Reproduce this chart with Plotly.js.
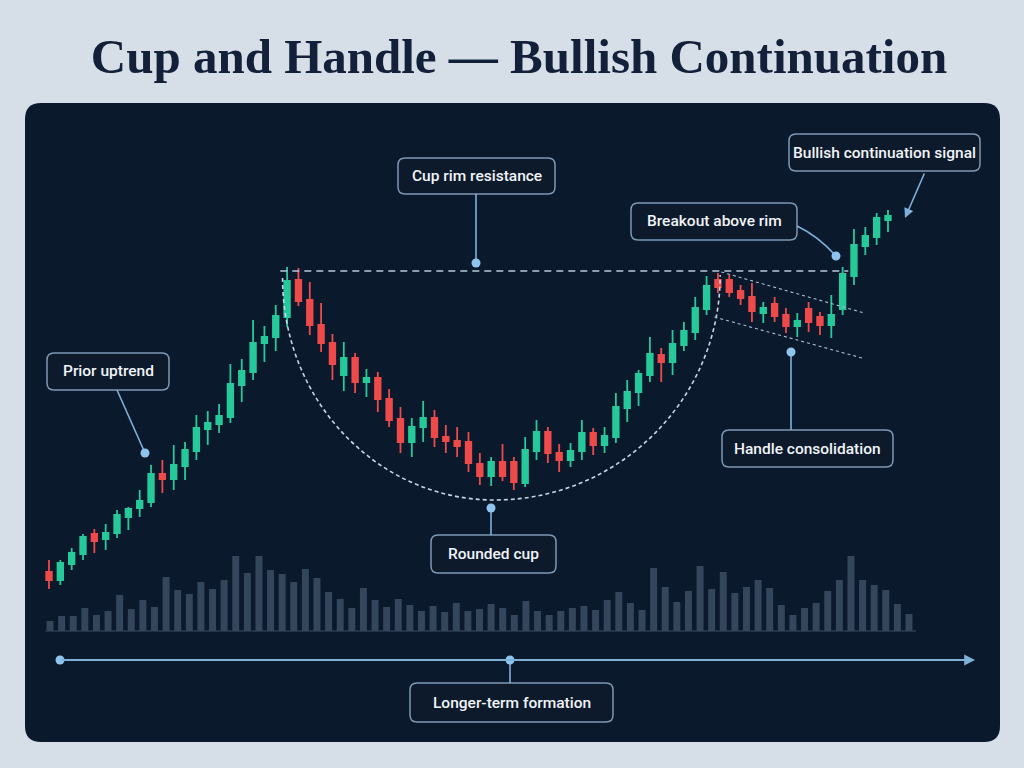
<!DOCTYPE html>
<html><head><meta charset="utf-8">
<script src="https://cdn.plot.ly/plotly-3.0.1.min.js"></script>
<style>html,body{margin:0;padding:0;background:#d6dee7}#chart{width:1024px;height:768px}</style>
</head><body><div id="chart"></div>
<script>
// ---- data ----
const openP = [168,160,176,186,206,201,207,223,232,238, 266,261,274,289,311,316,323,355,368,397, 403,423,460,440,415,397,365,382,358,362, 341,321,298,313,322,303,299,298,276,264, 278,278,257,289,308,287,280,289,307,295, 303,332,348,365,385,378,395,408,431,460, 460,449,443,427,436,425,414,431,423,415, 431,464,494,503,520];
const closeP = [160,177,187,203,199,207,225,231,239,266, 261,275,290,312,317,324,356,369,397,403, 424,459,439,415,397,376,382,358,362,341, 320,298,313,322,303,299,294,277,264,278, 264,258,290,308,287,280,289,307,295,304, 333,348,366,386,378,396,409,432,454,453, 448,442,429,432,424,414,419,418,415,425, 466,495,504,522,524];
const highP = [180,180,192,206,211,216,230,233,250,275, 280,295,298,325,329,336,376,381,420,414, 435,473,472,458,437,406,398,387,371,368, 351,333,322,339,330,315,313,308,287,283, 296,283,303,320,313,296,297,320,312,313, 347,360,370,403,392,410,418,443,464,467, 465,455,457,438,443,432,427,438,428,445, 473,511,513,527,530];
const lowP = [151,155,170,180,187,190,202,210,223,233, 247,250,260,280,295,307,317,338,360,378, 389,413,434,405,388,360,349,347,343,328, 313,287,283,298,293,287,283,268,255,254, 259,250,253,280,277,268,273,280,285,287, 297,318,334,358,358,365,389,400,425,447, 443,435,418,417,418,407,403,408,405,402, 425,455,485,495,508];
const volume = [100,150,150,230,160,200,360,220,310,240, 540,410,370,490,420,510,750,580,750,610, 570,490,620,530,390,320,230,430,310,240, 320,260,200,250,190,280,200,220,270, 230,160,300,200,160,200,230,250,210,310, 390,280,210,630,440,290,400,650,420,590, 380,440,510,430,260,160,230,280,400,510, 750,510,460,410,270,170];
const rimLevel = 469;
const titleText = "Cup and Handle — Bullish Continuation";
const labelTexts = ["Cup rim resistance","Prior uptrend","Rounded cup","Handle consolidation","Breakout above rim","Bullish continuation signal","Longer-term formation"];

const candleIdx = openP.map((_, i) => i);
const volIdx = volume.map((_, i) => i);

// ---- helpers for pixel-space decoration ----
const W = 1024, H = 768;
const px = x => x / W, py = y => 1 - y / H;
const P = (x, y) => px(x) + ',' + py(y);
function roundRect(x0, y0, x1, y1, r) {
  return 'M' + P(x0 + r, y0) + ' L' + P(x1 - r, y0) + ' Q' + P(x1, y0) + ' ' + P(x1, y0 + r) +
    ' L' + P(x1, y1 - r) + ' Q' + P(x1, y1) + ' ' + P(x1 - r, y1) +
    ' L' + P(x0 + r, y1) + ' Q' + P(x0, y1) + ' ' + P(x0, y1 - r) +
    ' L' + P(x0, y0 + r) + ' Q' + P(x0, y0) + ' ' + P(x0 + r, y0) + ' Z';
}
const lineCol = '#7fb0d8', dotCol = '#8ec5ee';
const shapes = [];
const annotations = [];
// panel
shapes.push({type: 'path', xref: 'paper', yref: 'paper', layer: 'below', path: roundRect(25, 103, 1000, 742, 16), fillcolor: '#0b192d', line: {width: 0}});
// volume baseline
shapes.push({type: 'line', xref: 'x', yref: 'y', x0: -0.4, x1: 74.6, y0: 0, y1: 0, layer: 'below', line: {color: '#2b3c52', width: 1.5}});
// rim resistance dashed line
shapes.push({type: 'line', xref: 'x2', yref: 'y2', x0: 20.4, x1: 70.5, y0: rimLevel, y1: rimLevel, line: {color: '#b5c9dc', width: 1.6, dash: '7px,5px'}});
// cup arc
shapes.push({type: 'path', xref: 'x2', yref: 'y2', path: 'M20.6,462 C20.6,339 29,240 39.3,240 C50.3,240 59.2,341 59.2,465', line: {color: '#c5d5e5', width: 1.6, dash: '4px,3px'}});
// handle channel
shapes.push({type: 'line', xref: 'x2', yref: 'y2', x0: 59.3, y0: 468, x1: 71.9, y1: 427, line: {color: '#a9bfd6', width: 1.1, dash: '3px,3px'}});
shapes.push({type: 'line', xref: 'x2', yref: 'y2', x0: 58.7, y0: 423, x1: 71.7, y1: 382, line: {color: '#a9bfd6', width: 1.1, dash: '3px,3px'}});

// labels: [text index, x0, y0, x1, y1]
const boxes = [[0, 398, 158, 555, 194], [1, 47, 353, 169, 390], [2, 431, 535, 556, 573], [3, 722, 430, 893, 467], [4, 631, 203, 797, 240], [5, 789, 134, 980, 171], [6, 410, 683, 613, 722]];
boxes.forEach(b => {
  shapes.push({type: 'path', xref: 'paper', yref: 'paper', path: roundRect(b[1], b[2], b[3], b[4], 7), fillcolor: '#0d1a2b', line: {color: '#7d98b3', width: 1.5}});
  annotations.push({xref: 'paper', yref: 'paper', x: px((b[1] + b[3]) / 2), y: py((b[2] + b[4]) / 2), text: labelTexts[b[0]], showarrow: false, xanchor: 'center', yanchor: 'middle', font: {family: 'Roboto, sans-serif', size: 15.5, weight: 500, color: '#f1f4f8'}});
});
// connectors
const conn = [[476, 194, 476, 263], [117, 390, 145, 453], [491, 535, 491, 508], [791, 430, 791, 352], [510, 660, 510, 683]];
conn.forEach(c => shapes.push({type: 'path', xref: 'paper', yref: 'paper', path: 'M' + P(c[0], c[1]) + ' L' + P(c[2], c[3]), line: {color: lineCol, width: 1.6}}));
shapes.push({type: 'path', xref: 'paper', yref: 'paper', path: 'M' + P(797, 226) + ' Q' + P(818, 236) + ' ' + P(836, 256), line: {color: lineCol, width: 1.6}});
// dots
const dots = [[476, 263], [145, 453], [491, 508], [791, 352], [836, 256], [60, 660], [510, 660]];
dots.forEach(d => shapes.push({type: 'circle', xref: 'paper', yref: 'paper', x0: px(d[0] - 4.5), x1: px(d[0] + 4.5), y0: py(d[1] - 4.5), y1: py(d[1] + 4.5), fillcolor: dotCol, line: {width: 0}}));
// arrows
annotations.push({xref: 'paper', yref: 'paper', x: px(975), y: py(660), ax: -915, ay: 0, text: '', showarrow: true, arrowhead: 2, arrowsize: 1.2, arrowwidth: 1.8, arrowcolor: lineCol, standoff: 0});
annotations.push({xref: 'paper', yref: 'paper', x: px(905), y: py(218), ax: 20, ay: -46, text: '', showarrow: true, arrowhead: 2, arrowsize: 1.2, arrowwidth: 1.6, arrowcolor: lineCol, standoff: 0});

const traces = [
  {type: 'bar', x: volIdx, y: volume, xaxis: 'x', yaxis: 'y', width: 0.6, marker: {color: '#34465c', line: {width: 0}}, hoverinfo: 'skip'},
  {type: 'candlestick', x: candleIdx, open: openP, high: highP, low: lowP, close: closeP, xaxis: 'x2', yaxis: 'y2', hoverinfo: 'skip',
    increasing: {line: {color: '#26c99a', width: 1.8}, fillcolor: '#26c99a'},
    decreasing: {line: {color: '#ef4a4a', width: 1.8}, fillcolor: '#ef4a4a'}}
];
const dom = [1 - 742 / H, 1 - 103 / H];
const hid = {visible: false, showgrid: false, zeroline: false, fixedrange: true};
const layout = {
  width: W, height: H, margin: {l: 0, r: 0, t: 0, b: 0},
  paper_bgcolor: '#d6dee7', plot_bgcolor: 'rgba(0,0,0,0)', showlegend: false,
  title: {text: titleText, x: 519 / W, xanchor: 'center', y: py(56), yanchor: 'middle', yref: 'paper',
    font: {family: 'Liberation Serif, serif', size: 49, weight: 700, color: '#13203a'}},
  xaxis: Object.assign({domain: [25 / W, 1000 / W], range: [-2.154, 81.84]}, hid),
  yaxis: Object.assign({domain: dom, range: [-1110, 5280]}, hid),
  xaxis2: Object.assign({overlaying: 'x', anchor: 'y2', range: [-2.117, 83.88], rangeslider: {visible: false}}, hid),
  yaxis2: Object.assign({overlaying: 'y', anchor: 'x2', range: [-2, 637]}, hid),
  shapes: shapes, annotations: annotations
};
Plotly.newPlot('chart', traces, layout, {displayModeBar: false, staticPlot: true});
</script></body></html>
